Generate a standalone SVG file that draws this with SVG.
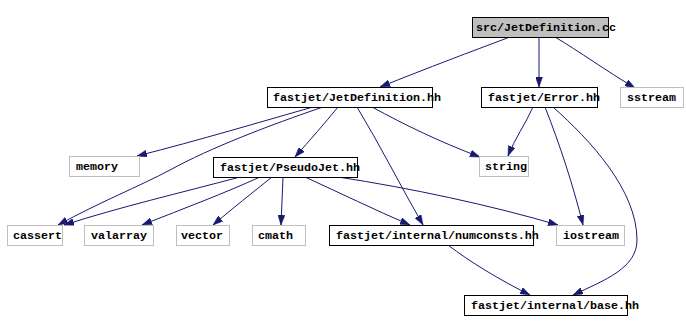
<svg xmlns="http://www.w3.org/2000/svg" width="686" height="332" viewBox="0 0 686 332">
<style>
.bx{fill:#ffffff;stroke:#000000;stroke-width:1}
.gx{fill:#ffffff;stroke:#bfbfbf;stroke-width:1}
.rt{fill:#bfbfbf;stroke:#000000;stroke-width:1}
text{font-family:"Liberation Mono","DejaVu Sans Mono",monospace;font-weight:bold;font-size:11.67px;fill:#000000}
.e{fill:none;stroke:#191970;stroke-width:1;marker-end:url(#ah)}
</style>
<defs>
<marker id="ah" viewBox="0 0 10 7" refX="10" refY="3.5" markerWidth="10" markerHeight="7" markerUnits="userSpaceOnUse" orient="auto">
<path d="M0,0 L10,3.5 L0,7 z" fill="#191970" stroke="#191970" stroke-width="0.5"/>
</marker>
</defs>
<rect width="686" height="332" fill="#ffffff"/>
<g id="connectors">
<path class="e" d="M510,37 C470,52 430,67 380,87"/>
<path class="e" d="M539,37 L539,87"/>
<path class="e" d="M555,37 C580,52 605,70 635,88"/>
<path class="e" d="M313,107 C260,122 200,140 137,156"/>
<path class="e" d="M323,107 C270,125 210,148 170,170 C140,186 100,202 58,225"/>
<path class="e" d="M338,107 C325,123 310,140 295,157"/>
<path class="e" d="M357,107 C380,145 400,185 423,225"/>
<path class="e" d="M372,107 C405,125 440,142 480,157"/>
<path class="e" d="M533,107 C525,125 515,138 508,156"/>
<path class="e" d="M545,107 C560,145 573,185 583,225"/>
<path class="e" d="M553,107 C590,140 637,190 637,240 C637,268 605,280 573,295"/>
<path class="e" d="M240,177 C180,193 120,207 64,225"/>
<path class="e" d="M260,177 C225,193 185,208 142,225"/>
<path class="e" d="M272,177 C252,193 233,208 213,225"/>
<path class="e" d="M283,177 L281,225"/>
<path class="e" d="M305,177 C340,193 375,210 410,225"/>
<path class="e" d="M338,177 C410,188 490,205 558,225"/>
<path class="e" d="M448,245 C470,262 500,280 530,295"/>
</g>
<g id="n_src"><rect class="rt" x="472.5" y="17.5" width="136" height="20"/><text x="476" y="31">src/JetDefinition.cc</text></g>
<g id="n_jetdef"><rect class="bx" x="267.5" y="87.5" width="165" height="20"/><text x="273" y="101">fastjet/JetDefinition.hh</text></g>
<g id="n_error"><rect class="bx" x="481.5" y="87.5" width="116" height="20"/><text x="488" y="101">fastjet/Error.hh</text></g>
<g id="n_sstream"><rect class="gx" x="620.5" y="87.5" width="63" height="20"/><text x="627" y="101">sstream</text></g>
<g id="n_memory"><rect class="gx" x="69.5" y="156.5" width="70" height="20"/><text x="76" y="170">memory</text></g>
<g id="n_pseudojet"><rect class="bx" x="213.5" y="157.5" width="144" height="20"/><text x="220" y="171">fastjet/PseudoJet.hh</text></g>
<g id="n_string"><rect class="gx" x="479.5" y="156.5" width="49" height="20"/><text x="485" y="170">string</text></g>
<g id="n_cassert"><rect class="gx" x="7.5" y="225.5" width="55" height="20"/><text x="13" y="239">cassert</text></g>
<g id="n_valarray"><rect class="gx" x="84.5" y="225.5" width="69" height="20"/><text x="91" y="239">valarray</text></g>
<g id="n_vector"><rect class="gx" x="176.5" y="225.5" width="53" height="20"/><text x="181" y="239">vector</text></g>
<g id="n_cmath"><rect class="gx" x="252.5" y="225.5" width="53" height="20"/><text x="258" y="239">cmath</text></g>
<g id="n_numconsts"><rect class="bx" x="329.5" y="225.5" width="204" height="20"/><text x="336" y="239">fastjet/internal/numconsts.hh</text></g>
<g id="n_iostream"><rect class="gx" x="556.5" y="225.5" width="68" height="20"/><text x="563" y="239">iostream</text></g>
<g id="n_base"><rect class="bx" x="464.5" y="295.5" width="163" height="20"/><text x="471" y="309">fastjet/internal/base.hh</text></g>
</svg>
